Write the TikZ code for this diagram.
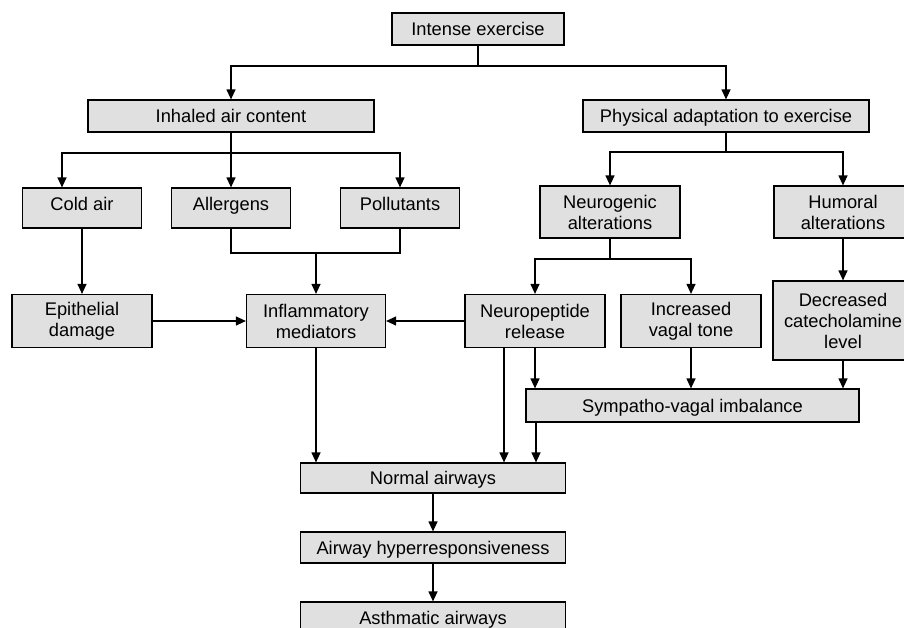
\documentclass[tikz,border=0pt]{standalone}
\usepackage{fontspec}
\setmainfont{Liberation Sans}
\usetikzlibrary{arrows.meta}
\definecolor{boxfill}{RGB}{224,224,224}
\tikzset{
  box/.style={draw=black, line width=1.2pt, fill=boxfill, inner sep=0pt, align=center,
    font=\fontsize{18.3}{21}\selectfont},
  one/.style={box, text height=13.6pt, text depth=0pt},
  low/.style={box, text height=12pt, text depth=6.6pt},
  conn/.style={line width=1.2pt, draw=black},
  arr/.style={conn, -{Triangle[length=10pt,width=9pt]}}
}
\begin{document}
\begin{tikzpicture}[x=1pt,y=-1pt]
\path[use as bounding box, clip] (0,0) rectangle (904,627);
\fill[white] (0,0) rectangle (904,627);
% nodes
\node[one, minimum width=172pt, minimum height=32pt] (ie) at (478,29) {Intense exercise};
\node[one, minimum width=286pt, minimum height=32pt] (inh) at (231,116) {Inhaled air content};
\node[one, minimum width=286pt, minimum height=32pt] (phys) at (726,116) {Physical adaptation to exercise};
\node[low, minimum width=119pt, minimum height=40pt] (cold) at (82,208) {Cold air};
\node[low, minimum width=119pt, minimum height=40pt] (allerg) at (231,208) {Allergens};
\node[low, minimum width=119pt, minimum height=40pt] (poll) at (400,208) {Pollutants};
\node[box, minimum width=140pt, minimum height=52pt] (neuro) at (610,212) {Neurogenic\\alterations};
\node[box, minimum width=138pt, minimum height=52pt] (humoral) at (843,212) {Humoral\\alterations};
\node[box, minimum width=140pt, minimum height=53pt] (epi) at (82,321) {Epithelial\\damage};
\node[box, minimum width=139pt, minimum height=53pt] (infl) at (316,321) {Inflammatory\\mediators};
\node[box, minimum width=140pt, minimum height=53pt] (neurop) at (535,321) {Neuropeptide\\release};
\node[box, minimum width=140pt, minimum height=53pt] (incv) at (691,321) {Increased\\vagal tone};
\node[box, minimum width=140pt, minimum height=79pt] (decr) at (843,320.5) {Decreased\\catecholamine\\level};
\node[one, minimum width=333pt, minimum height=33pt] (symp) at (692.5,405.5) {Sympatho-vagal imbalance};
\node[one, minimum width=265pt, minimum height=30pt] (normal) at (433,478) {Normal airways};
\node[one, minimum width=265pt, minimum height=31pt] (ahr) at (433,547.5) {Airway hyperresponsiveness};
\node[one, minimum width=265pt, minimum height=31pt] (asth) at (433,617.5) {Asthmatic airways};
% junctions
\coordinate (tb) at (478,66);
\coordinate (ib) at (231,153);
\coordinate (ab) at (316,253);
\coordinate (pb) at (726,152);
\coordinate (nb) at (610,259);
\coordinate (np2) at ([xshift=-31pt]neurop.south);
\coordinate (sp2) at ([xshift=-156.5pt]symp.south);
\coordinate (ca) at ([xshift=-20pt]cold.north);
% connectors
\draw[conn] (ie.south) -- (tb);
\draw[arr] (tb) -| (inh.north);
\draw[arr] (tb) -| (phys.north);
\draw[conn] (inh.south) -- (ib);
\draw[arr] (ib) -| (ca);
\draw[arr] (ib) -- (allerg.north);
\draw[arr] (ib) -| (poll.north);
\draw[arr] (cold.south) -- (cold.south |- epi.north);
\draw[conn] (allerg.south) |- (ab);
\draw[conn] (poll.south) |- (ab);
\draw[arr] (ab) -- (infl.north);
\draw[arr] (epi.east) -- (infl.west);
\draw[arr] (neurop.west) -- (infl.east);
\draw[conn] (phys.south) -- (pb);
\draw[arr] (pb) -| (neuro.north);
\draw[arr] (pb) -| (humoral.north);
\draw[conn] (neuro.south) -- (nb);
\draw[arr] (nb) -| (neurop.north);
\draw[arr] (nb) -| (incv.north);
\draw[arr] (humoral.south) -- (decr.north);
\draw[arr] (neurop.south) -- (neurop.south |- symp.north);
\draw[arr] (incv.south) -- (incv.south |- symp.north);
\draw[arr] (decr.south) -- (decr.south |- symp.north);
\draw[arr] (np2) -- (np2 |- normal.north);
\draw[arr] (sp2) -- (sp2 |- normal.north);
\draw[arr] (infl.south) -- (infl.south |- normal.north);
\draw[arr] (normal) -- (ahr);
\draw[arr] (ahr) -- (asth);
\end{tikzpicture}
\end{document}
